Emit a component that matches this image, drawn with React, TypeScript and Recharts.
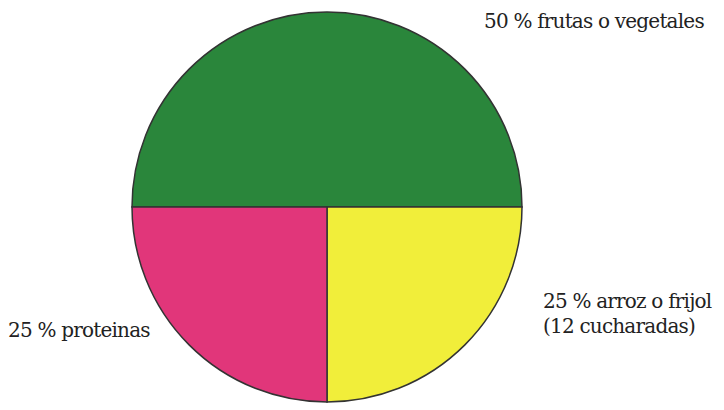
import { Pie, PieChart, Cell } from "recharts";

const groups = ["frutas o vegetales", "arroz o frijol", "proteinas"];
const shares = [50, 25, 25];
const colors = ["#2a863b", "#f1ee3a", "#e1367a"];

const data = groups.map((name, i) => ({ name, value: shares[i] }));

const labelStyle: React.CSSProperties = {
  position: "absolute",
  fontFamily: "'DejaVu Serif', serif",
  fontSize: 20,
  letterSpacing: -0.8,
  color: "#222",
  lineHeight: "25px",
  whiteSpace: "nowrap",
};

export default function App() {
  return (
    <div style={{ position: "absolute", left: 0, top: 0, width: 724, height: 410, background: "#fff", overflow: "hidden" }}>
      <PieChart width={724} height={410} margin={{ top: 0, right: 0, bottom: 0, left: 0 }}>
        <Pie
          data={data}
          dataKey="value"
          cx={327}
          cy={207}
          outerRadius={195}
          startAngle={180}
          endAngle={-180}
          stroke="#333"
          strokeWidth={1.5}
          isAnimationActive={false}
        >
          {data.map((d, i) => (
            <Cell key={d.name} fill={colors[i]} />
          ))}
        </Pie>
      </PieChart>
      <div style={{ ...labelStyle, left: 484, top: 9 }}>{shares[0]} % {groups[0]}</div>
      <div style={{ ...labelStyle, left: 543, top: 289 }}>
        {shares[1]} % {groups[1]}
        <br />
        (12 cucharadas)
      </div>
      <div style={{ ...labelStyle, left: 8, top: 318 }}>{shares[2]} % {groups[2]}</div>
    </div>
  );
}
